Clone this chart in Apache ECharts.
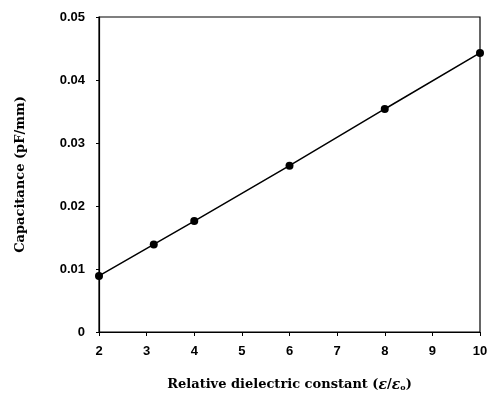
<!DOCTYPE html>
<html>
<head>
<meta charset="utf-8">
<script src="https://cdn.jsdelivr.net/npm/echarts@6/dist/echarts.min.js"></script>
<style>
  html, body { margin: 0; padding: 0; background: #fff; }
  #chart { width: 490px; height: 394px; }
</style>
</head>
<body>
<div id="chart"></div>
<script>
// values
const permittivity = [2, 3.15, 4, 6, 8, 10];
const capacitance = [0.0089, 0.0139, 0.0176, 0.0264, 0.0354, 0.0443];
const xTicks = [2, 3, 4, 5, 6, 7, 8, 9, 10];
const yTicks = [0, 0.01, 0.02, 0.03, 0.04, 0.05];

const points = permittivity.map((x, i) => [x, capacitance[i]]);

const tickFont = {
  fontFamily: 'Liberation Sans',
  fontWeight: 'bold',
  fontSize: 13,
  color: '#000'
};

const titleFont = {
  fontFamily: 'DejaVu Serif',
  fontWeight: 'bold',
  fontSize: 13,
  color: '#000'
};

const option = {
  animation: false,
  grid: {
    left: 99,
    right: 10,
    top: 17,
    bottom: 62,
    outerBoundsMode: 'none',
    show: true,
    borderColor: '#000',
    borderWidth: 1.2
  },
  xAxis: {
    type: 'value',
    min: 2,
    max: 10,
    interval: 1,
    name: 'Relative dielectric constant ({e|ε}/{e|ε}{s|o})',
    nameLocation: 'middle',
    nameGap: 46,
    nameTextStyle: Object.assign({
      rich: {
        e: { fontFamily: 'DejaVu Serif', fontStyle: 'italic', fontWeight: 'bold', fontSize: 14 },
        s: { fontFamily: 'DejaVu Serif', fontWeight: 'bold', fontSize: 8, padding: [6, 0, 0, 0] }
      }
    }, titleFont),
    splitLine: { show: false },
    axisLine: { lineStyle: { color: '#000', width: 1.2 } },
    axisTick: { length: 4, lineStyle: { color: '#000' } },
    axisLabel: Object.assign({ margin: 13 }, tickFont)
  },
  yAxis: {
    type: 'value',
    min: 0,
    max: 0.05,
    interval: 0.01,
    name: 'Capacitance (pF/mm)',
    nameLocation: 'middle',
    nameGap: 72,
    nameTextStyle: titleFont,
    splitLine: { show: false },
    axisLine: { show: true, lineStyle: { color: '#000', width: 1.2 } },
    axisTick: { show: true, length: 3, lineStyle: { color: '#000' } },
    axisLabel: Object.assign({
      margin: 14,
      formatter: v => (v === 0 ? '0' : v.toFixed(2))
    }, tickFont)
  },
  series: [
    {
      type: 'line',
      data: points,
      symbol: 'circle',
      symbolSize: 8,
      itemStyle: { color: '#000' },
      lineStyle: { color: '#000', width: 1.5 }
    }
  ]
};

const myChart = echarts.init(document.getElementById('chart'));
myChart.setOption(option);
</script>
</body>
</html>
